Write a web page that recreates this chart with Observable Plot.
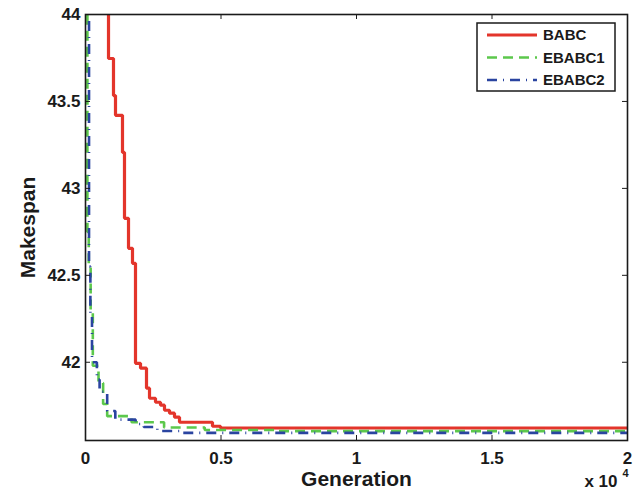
<!DOCTYPE html>
<html>
<head>
<meta charset="utf-8">
<script src="https://cdn.jsdelivr.net/npm/d3@7"></script>
<script src="https://cdn.jsdelivr.net/npm/@observablehq/plot@0.6"></script>
<style>
  html, body { margin: 0; padding: 0; background: white; }
  #chart { position: relative; width: 638px; height: 490px; }
</style>
</head>
<body>
<div id="chart"></div>
<script>
// ---- data ----
const seriesNames = ["BABC", "EBABC1", "EBABC2"];
const babcGen = [0, 849, 1033, 1107, 1365, 1439, 1587, 1734, 1845, 2030, 2251, 2362, 2583, 2768, 2915, 3100, 3284, 3469, 4686, 4982, 20000];
const babcVal = [45, 43.747, 43.534, 43.420, 43.207, 42.828, 42.655, 42.569, 41.994, 41.966, 41.851, 41.793, 41.770, 41.753, 41.724, 41.707, 41.684, 41.655, 41.632, 41.622, 41.622];
const ebabc1Gen = [0, 70, 120, 190, 270, 480, 650, 800, 1700, 2900, 4400, 7000, 20000];
const ebabc1Val = [45, 42.75, 42.55, 42.30, 41.98, 41.88, 41.76, 41.69, 41.655, 41.625, 41.610, 41.604, 41.604];
const ebabc2Gen = [0, 130, 180, 240, 420, 520, 800, 1100, 1850, 2150, 2650, 3600, 20000];
const ebabc2Val = [45, 42.55, 42.28, 42.00, 41.90, 41.83, 41.72, 41.67, 41.645, 41.628, 41.605, 41.594, 41.594];
const xTicks = [0, 5000, 10000, 15000, 20000];
const yTicks = [42, 42.5, 43, 43.5, 44];
const colors = ["#e3352b", "#5cc84c", "#2a44a0"];
const dashes = [null, "10,6", "10,6,1,6"];
const widths = [3.2, 2.6, 2.6];

const toRows = (gens, vals, name) => gens.map((g, i) => ({gen: g, val: vals[i], name}));
const tables = [
  toRows(babcGen, babcVal, seriesNames[0]),
  toRows(ebabc1Gen, ebabc1Val, seriesNames[1]),
  toRows(ebabc2Gen, ebabc2Val, seriesNames[2])
];

const W = 638, H = 490, mL = 85, mR = 11, mT = 14, mB = 50;
const fw = W - mL - mR, fh = H - mT - mB;
const ink = "#1a1a1a";

const chart = Plot.plot({
  width: W, height: H,
  marginLeft: mL, marginRight: mR, marginTop: mT, marginBottom: mB,
  x: {domain: [0, 20000]},
  y: {domain: [41.55, 44]},
  style: {fontFamily: "'Liberation Sans', Arial, sans-serif", fontWeight: "bold", fontSize: "17px", color: ink, background: "white", overflow: "visible"},
  marks: [
    ...tables.map((t, i) => Plot.line(t, {
      x: "gen", y: "val", curve: "step-after", clip: true,
      stroke: colors[i], strokeWidth: widths[i], strokeDasharray: dashes[i] ?? undefined,
      strokeLinecap: "butt", strokeLinejoin: "miter"
    })),
    Plot.frame({stroke: ink, strokeWidth: 1.6}),
    Plot.tickX(xTicks, {x: d => d, insetTop: fh - 5, stroke: ink}),
    Plot.tickX(xTicks, {x: d => d, insetBottom: fh - 5, stroke: ink}),
    Plot.tickY(yTicks, {y: d => d, insetRight: fw - 5, stroke: ink}),
    Plot.tickY(yTicks, {y: d => d, insetLeft: fw - 5, stroke: ink}),
    Plot.axisX(xTicks, {tickSize: 0, tickPadding: 11, tickFormat: d => String(d / 1e4), label: null, fontSize: 17, fontWeight: "bold"}),
    Plot.axisY(yTicks, {tickSize: 0, tickPadding: 5, tickFormat: d => String(d), label: null, fontSize: 17, fontWeight: "bold"}),
    Plot.text(["Generation"], {frameAnchor: "bottom", dy: 39, textAnchor: "middle", lineAnchor: "middle", text: d => d, fontSize: 21, fontWeight: "bold", fill: ink}),
    Plot.text(["Makespan"], {frameAnchor: "left", dx: -57, rotate: -90, textAnchor: "middle", lineAnchor: "middle", text: d => d, fontSize: 21, fontWeight: "bold", fill: ink}),
    Plot.text(["x 10"], {frameAnchor: "bottom-right", dx: -10, dy: 41, textAnchor: "end", lineAnchor: "middle", text: d => d, fontSize: 17, fontWeight: "bold", fill: ink}),
    Plot.text(["4"], {frameAnchor: "bottom-right", dx: 1, dy: 33, textAnchor: "end", lineAnchor: "middle", text: d => d, fontSize: 11, fontWeight: "bold", fill: ink})
  ]
});
document.getElementById("chart").appendChild(chart);

// ---- legend (inside the plot, top right) ----
const svg = d3.select(chart);
const lg = svg.append("g").attr("transform", "translate(477,23)");
lg.append("rect").attr("width", 138).attr("height", 68).attr("fill", "white").attr("stroke", ink).attr("stroke-width", 1.5);
seriesNames.forEach((name, i) => {
  const y = 12 + i * 22.5;
  lg.append("line").attr("x1", 10).attr("x2", 60).attr("y1", y).attr("y2", y)
    .attr("stroke", colors[i]).attr("stroke-width", widths[i])
    .attr("stroke-dasharray", dashes[i]);
  lg.append("text").attr("x", 66).attr("y", y).attr("dy", "0.36em")
    .attr("text-anchor", "start")
    .attr("font-family", "'Liberation Sans', Arial, sans-serif").attr("font-weight", "bold")
    .attr("font-size", 15).attr("fill", ink).text(name);
});
</script>
</body>
</html>
